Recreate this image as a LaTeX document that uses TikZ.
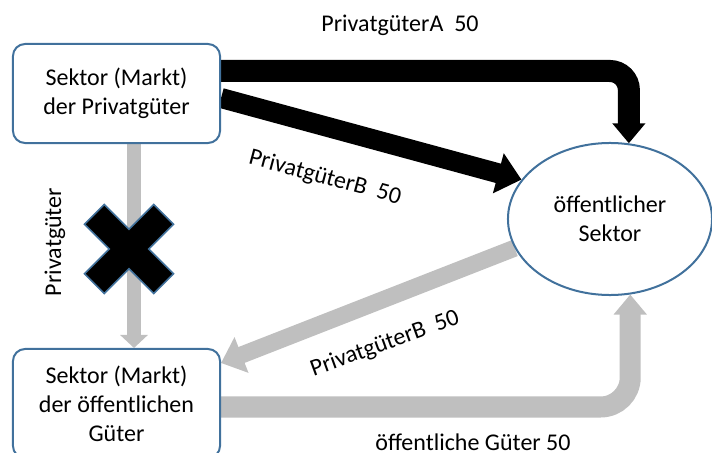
\documentclass[tikz,border=0pt]{standalone}
\usepackage{fontspec}
\setsansfont{Carlito}
\usetikzlibrary{arrows.meta, shapes.geometric, backgrounds}
\definecolor{sectorblue}{HTML}{41719C}
\definecolor{flowgray}{HTML}{BFBFBF}

\begin{document}
\begin{tikzpicture}[font=\sffamily\fontsize{17.07pt}{20.6pt}\selectfont,
		x=0.025cm, y=-0.025cm]
		
		% Setup the styles for the sectors and the flows
		\tikzset{sector style/.style={draw=sectorblue,
				line width=0.05cm,
				fill=white,
				align=center,
				inner sep=0pt},
			market style/.style={sector style, rectangle,
				rounded corners=0.3cm,
				minimum width=5.175cm},
			state style/.style={sector style, ellipse,
				minimum width=5.1cm,
				minimum height=3.8cm},
			black flow/.style={draw=black, line width=#1},
			gray flow/.style={draw=flowgray, line width=#1},
			label style/.style={inner sep=0pt}}
		
		\useasboundingbox (0,0) rectangle (712,453);
		\clip (0,0) rectangle (712,453);
		
		% Draw the sectors
		\node[market style, minimum height=2.475cm] at (116.5, 93.5) (privat) {Sektor (Markt)\\der Privatgüter};
		\node[market style, minimum height=2.725cm] at (116.5, 403.5) (oeffentlich) {Sektor (Markt)\\der öffentlichen\\Güter};
		\node[state style] at (610, 219) (staat) {öffentlicher\\Sektor};
		
		% Connect the sectors with arrows
		\begin{scope}[on background layer]
		\draw[black flow=0.55cm, rounded corners=0.475cm, -{Triangle[length=0.5cm, width=0.8cm]}]
		([yshift=0.5625cm]privat.east) -| (staat.76);
		\draw[black flow=0.5cm, -{Triangle[length=0.6cm, width=1cm]}]
		([yshift=-0.1125cm]privat.east) -- (staat.156);
		\draw[gray flow=0.35cm, -{Triangle[length=0.325cm, width=0.675cm]}]
		([xshift=0.4375cm]privat.south) -- ([xshift=0.4375cm]oeffentlich.north);
		\draw[gray flow=0.425cm, -{Triangle[length=0.55cm, width=0.925cm]}]
		(staat.197) -- ([yshift=1.0125cm]oeffentlich.east);
		\draw[gray flow=0.525cm, rounded corners=0.74cm, -{Triangle[length=0.5cm, width=0.8cm]}]
		([yshift=-0.0875cm]oeffentlich.east) -| (staat.285);
		\end{scope}
		
		% The blocked path
		\coordinate (block) at (129, 249);
		\draw[draw=sectorblue, line width=0.04cm, fill=black, shift={(block)}, rotate=45]
		(49,14) -- (14,14) -- (14,49) -- (-14,49) -- (-14,14) -- (-49,14) -- (-49,-14)
		-- (-14,-14) -- (-14,-49) -- (14,-49) -- (14,-14) -- (49,-14) -- cycle;
		
		% Labels of the flows
		\node[label style] at (400, 25) (flowA) {PrivatgüterA\ \ 50};
		\node[label style, rotate=-15] at (325, 178) (flowB) {PrivatgüterB\ \ 50};
		\node[label style, rotate=90] at (55, 242) (blocked) {Privatgüter};
		\node[label style, rotate=20] at (385, 344) (flowBback) {PrivatgüterB\ \ 50};
		\node[label style] at (473, 442) (publicgoods) {öffentliche Güter 50};
	\end{tikzpicture}
\end{document}
